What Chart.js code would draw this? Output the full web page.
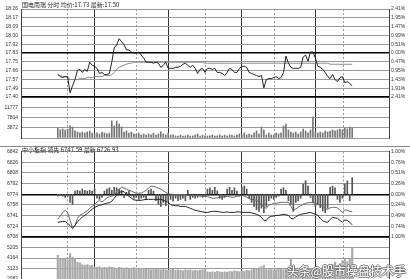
<!DOCTYPE html>
<html>
<head>
<meta charset="utf-8">
<script src="https://cdn.jsdelivr.net/npm/chart.js@4.4.1/dist/chart.umd.min.js"></script>
<style>
  body { margin: 0; background: #fff; }
  #wrap { position: relative; width: 410px; height: 279px; overflow: hidden; background: #fff; }
  #wrap canvas { position: absolute; left: 0; top: 0; }
  .hd { position: absolute; left: 22px; font: 6px "Noto Sans CJK SC"; color: #222; white-space: nowrap; line-height: 7px; }
  .sep { position: absolute; left: 0; width: 410px; height: 0; border-top: 1px solid #888; }
  .mark { position: absolute; right: 4px; top: 262px; font: 12px "Noto Sans CJK SC"; color: #fff; white-space: nowrap;
          text-shadow: 1px 0 #777, -1px 0 #777, 0 1px #777, 0 -1px #777; }
</style>
</head>
<body>
<div id="wrap">
  <canvas id="cPrice" width="410" height="300"></canvas>
  <canvas id="cVol" width="410" height="300"></canvas>
  <canvas id="cIndex" width="410" height="300"></canvas>
  <canvas id="cIndexVol" width="410" height="300"></canvas>
  <div class="hd" style="top:1px">国电南瑞 分时 均价:17.73 最新:17.50</div>
  <div class="sep" style="top:146px"></div>
  <div class="hd" style="top:146px">中小板指 领先 6747.59 最新 6726.93</div>
  <div class="mark">头条@股市操盘技术手</div>
</div>
<script>
// time axis (one point every 2 minutes, 121 points)
var timeLabels = ['09:30', '10:30', '11:30', '14:00', '15:00'];
var timeTicks = [0, 30, 60, 90, 120];
var halfHourTicks = [15, 45, 75, 105];

// stock price panel
var priceLabels = ['17.40', '17.49', '17.57', '17.66', '17.75', '17.83', '17.92', '18.00', '18.09', '18.17', '18.26'];
var pricePctLabels = ['2.41%', '1.91%', '1.43%', '0.95%', '0.47%', '0.00%', '0.51%', '0.99%', '1.47%', '1.95%', '2.41%'];
var price = [17.62, 17.60, 17.59, 17.60, 17.60, 17.44, 17.51, 17.57, 17.66, 17.67,
  17.64, 17.67, 17.65, 17.74, 17.71, 17.70, 17.68, 17.63, 17.64, 17.62,
  17.62, 17.63, 17.74, 17.88, 17.91, 17.97, 17.94, 17.91, 17.86, 17.86,
  17.84, 17.83, 17.83, 17.84, 17.81, 17.78, 17.74, 17.74, 17.74, 17.73,
  17.74, 17.73, 17.69, 17.71, 17.74, 17.68, 17.68, 17.68, 17.69, 17.69,
  17.70, 17.72, 17.73, 17.71, 17.69, 17.71, 17.68, 17.63, 17.67, 17.68,
  17.64, 17.68, 17.68, 17.67, 17.68, 17.64, 17.64, 17.63, 17.61, 17.64,
  17.68, 17.67, 17.64, 17.64, 17.68, 17.70, 17.70, 17.69, 17.64, 17.63,
  17.62, 17.61, 17.60, 17.61, 17.49, 17.57, 17.58, 17.58, 17.59, 17.60,
  17.58, 17.59, 17.64, 17.80, 17.73, 17.69, 17.68, 17.68, 17.68, 17.69,
  17.79, 17.81, 17.75, 17.84, 17.84, 17.78, 17.70, 17.69, 17.67, 17.64,
  17.60, 17.58, 17.62, 17.57, 17.55, 17.59, 17.60, 17.54, 17.55, 17.53,
  17.51];
var avgPrice = [17.62, 17.61, 17.60, 17.60, 17.59, 17.57, 17.57, 17.57, 17.57, 17.58,
  17.58, 17.58, 17.59, 17.59, 17.59, 17.60, 17.60, 17.60, 17.60, 17.61,
  17.61, 17.61, 17.62, 17.64, 17.67, 17.69, 17.70, 17.71, 17.72, 17.73,
  17.73, 17.74, 17.74, 17.74, 17.74, 17.74, 17.74, 17.74, 17.74, 17.74,
  17.74, 17.74, 17.74, 17.74, 17.74, 17.74, 17.74, 17.74, 17.74, 17.74,
  17.74, 17.74, 17.74, 17.74, 17.74, 17.74, 17.74, 17.74, 17.74, 17.74,
  17.73, 17.73, 17.73, 17.73, 17.73, 17.73, 17.73, 17.73, 17.73, 17.73,
  17.73, 17.73, 17.73, 17.73, 17.73, 17.73, 17.73, 17.73, 17.73, 17.73,
  17.73, 17.73, 17.73, 17.73, 17.73, 17.73, 17.73, 17.73, 17.73, 17.73,
  17.73, 17.73, 17.73, 17.73, 17.73, 17.73, 17.73, 17.73, 17.73, 17.73,
  17.73, 17.73, 17.73, 17.73, 17.73, 17.73, 17.73, 17.73, 17.73, 17.73,
  17.73, 17.72, 17.72, 17.72, 17.72, 17.72, 17.72, 17.72, 17.72, 17.72,
  17.72];

// stock volume panel
var volLabels = ['', '3872', '7804', '11777', ''];
var volume = [3840, 3120, 3480, 3050, 3390, 4650, 4180, 2710, 2330, 1960,
  2260, 1890, 2350, 2680, 1930, 1560, 1980, 1520, 2290, 1940,
  1580, 1910, 6620, 4580, 6480, 5350, 4250, 2310, 2720, 1930,
  2280, 1560, 1490, 1950, 1160, 1530, 1120, 1570, 1180, 1910,
  1140, 1520, 2360, 1550, 1170, 1930, 1130, 1180, 790, 760,
  1150, 780, 820, 1160, 750, 800, 1190, 1540, 780, 1120,
  820, 760, 790, 1150, 770, 810, 1160, 780, 1120, 760,
  1170, 1140, 790, 1130, 1560, 1150, 1930, 1180, 1540, 1120,
  1950, 2700, 1530, 4240, 3080, 1160, 1920, 1170, 1140, 1930,
  1550, 1940, 4620, 5380, 3090, 2310, 1920, 2290, 1560, 2330,
  3460, 2680, 1950, 3080, 8060, 2320, 1930, 2280, 1910, 2700,
  2310, 2690, 3070, 2720, 3100, 3450, 3060, 3840, 3490, 4230,
  3880];

// index panel (中小板指)
var indexLabels = ['6708', '6724', '6741', '6758', '6774', '6792', '6808', '6826', '6842'];
var indexPctLabels = ['1.00%', '0.74%', '0.49%', '0.24%', '0.00%', '0.26%', '0.51%', '0.76%', '1.00%'];
var indexBase = 6775;
var leadLine = [6735.6, 6741, 6746.6, 6749.8, 6746.6, 6734, 6723, 6726, 6737, 6742,
  6744, 6746.6, 6749, 6753, 6756, 6759, 6763, 6765, 6763, 6765.5,
  6769.5, 6771, 6772, 6774, 6779, 6783, 6786, 6784.5, 6783, 6781,
  6780, 6778, 6776.6, 6776.6, 6777, 6779, 6781, 6784.5, 6787.6, 6787.6,
  6786, 6784.5, 6783, 6780.5, 6778, 6776, 6775, 6775, 6774, 6775,
  6774, 6775, 6774, 6773.4, 6773.4, 6773.4, 6772.6, 6773.4, 6772.6, 6771.8,
  6771.8, 6771, 6770.3, 6768.7, 6768.7, 6769.5, 6770.3, 6770.3, 6771, 6771.8,
  6771, 6770.3, 6770.3, 6771.8, 6772.6, 6773.4, 6771.8, 6770.3, 6768, 6767,
  6766.3, 6765.5, 6762.4, 6759, 6754.5, 6753, 6757.7, 6759, 6761, 6761,
  6761.6, 6762.4, 6762.4, 6762.4, 6762.4, 6756, 6749.8, 6752, 6754.5, 6757,
  6759, 6761, 6761.6, 6762.4, 6761.6, 6761, 6759, 6757.7, 6756, 6753,
  6751.4, 6753.7, 6754.5, 6754.5, 6753.7, 6749.8, 6746.6, 6750.6, 6749.8, 6748.2,
  6747.6];
var indexLine = [6731, 6731.7, 6732.4, 6732.4, 6729.3, 6726, 6721.4, 6726, 6731.7, 6735.6,
  6739.5, 6742, 6745, 6748.2, 6751.4, 6754.5, 6756, 6757.7, 6758.5, 6760,
  6761, 6761.6, 6764, 6768.7, 6773.4, 6778, 6779, 6779, 6775, 6771.8,
  6768.7, 6766.3, 6765.5, 6765.5, 6765.5, 6766.3, 6767, 6767, 6767, 6767,
  6767, 6767, 6767, 6765.5, 6764, 6762.4, 6758.5, 6757.7, 6757, 6757,
  6756, 6756, 6756, 6754.5, 6753, 6751.4, 6749.8, 6749, 6748.2, 6747.4,
  6746.6, 6746.6, 6747.4, 6748.2, 6748.2, 6748.2, 6747.4, 6746.6, 6746.6, 6747.4,
  6746.6, 6746.6, 6746.6, 6747.4, 6747.4, 6746.6, 6746.6, 6746.6, 6746.6, 6745.8,
  6745, 6743.5, 6741.9, 6738.8, 6734, 6734, 6738.8, 6740.3, 6741, 6741.9,
  6741.9, 6742.7, 6743.5, 6742.7, 6741.9, 6737.2, 6736.4, 6739.5, 6741.9, 6743.5,
  6744.3, 6745, 6745.8, 6746.6, 6745, 6743.5, 6741.9, 6737.2, 6733.3, 6731.7,
  6731, 6735.6, 6738.8, 6738, 6737.2, 6734, 6731, 6734.8, 6734, 6731,
  6727];
// buy/sell strength bars around the previous close
var power = [-3, -2, -3, -5, -3, -13, -16, 5, 6, 5,
  8, 6, 5, 6, 5, 8, -6, -8, -5, 5,
  8, 10, 6, 11, 10, 8, 6, -5, 3, 5,
  -3, -6, -5, -8, -6, -5, -8, 6, 8, 5,
  -10, -16, -19, -13, -18, -10, -8, -11, -6, -10,
  -8, -6, -10, 6, -8, -5, -6, -5, -3, -5,
  -3, 8, 10, 6, 11, 5, -6, -8, -5, 8,
  11, 6, 10, 5, -3, 11, 13, 8, -6, -13,
  -19, -24, -27, -22, -29, -19, -10, -6, -8, -5,
  -3, 8, 10, 6, -10, -16, -27, -13, -10, -6,
  16, 21, 13, -5, -13, -19, -16, -21, -26, -29,
  -22, 11, 13, 10, -8, -13, -6, 16, 21, -10,
  26];

// index volume panel
var indexVolLabels = ['2082', '3123', '4164', '5205', ''];
var indexVol = [4440, 4100, 4050, 4150, 4000, 4610, 4250, 4150, 3750, 3700,
  3500, 3450, 3500, 3420, 3450, 3300, 3250, 3300, 3200, 3250,
  3200, 3300, 3250, 3200, 3150, 3250, 3200, 3150, 3200, 3150,
  3100, 3200, 3150, 3100, 3150, 3100, 3050, 3100, 3000, 3050,
  3100, 3050, 3000, 3050, 3000, 2950, 3000, 3050, 2950, 3000,
  2950, 2900, 3000, 2950, 3000, 2900, 2950, 2900, 2950, 3000,
  3100, 2800, 2750, 2800, 2750, 2850, 2800, 2750, 2800, 2750,
  2850, 2800, 2900, 2850, 2800, 2900, 2850, 2950, 2900, 3000,
  3050, 3100, 3200, 3300, 3420, 3100, 3000, 3050, 2950, 3000,
  3050, 3100, 3000, 3050, 3200, 4080, 3300, 3100, 3000, 3050,
  3100, 3000, 3050, 3100, 3000, 3050, 2950, 3000, 3100, 3050,
  3200, 3400, 3550, 3750, 3450, 3600, 3900, 4050, 3800, 4100,
  5230];

var H = 300;
var tickFont = { size: 5, family: 'Arial' };

function pts(arr) {
  return arr.map(function (v, i) { return { x: i, y: v }; });
}

function evenTicks(min, max, n) {
  var out = [];
  for (var i = 0; i <= n; i++) out.push({ value: min + (max - min) * i / n });
  return out;
}

function xScales(showTime) {
  return {
    x: {
      type: 'linear', min: 0, max: 120,
      afterBuildTicks: function (s) { s.ticks = timeTicks.map(function (v) { return { value: v }; }); },
      afterFit: function (s) { s.height = 0; },
      grid: { color: '#333', drawTicks: false },
      border: { display: false },
      ticks: {
        display: showTime, padding: 1, autoSkip: false, maxRotation: 0,
        font: tickFont, color: '#333',
        callback: function (v, i) { return timeLabels[i]; }
      }
    },
    xd: {
      type: 'linear', min: 0, max: 120,
      afterBuildTicks: function (s) { s.ticks = halfHourTicks.map(function (v) { return { value: v }; }); },
      afterFit: function (s) { s.height = 0; },
      grid: { color: '#999', drawTicks: false, borderDash: [2, 2] },
      border: { display: false, dash: [2, 2] },
      ticks: { display: false }
    }
  };
}

function yScales(min, max, n, leftLabels, rightLabels, bold) {
  return {
    y: {
      position: 'left', min: min, max: max,
      afterBuildTicks: function (s) { s.ticks = evenTicks(min, max, n); },
      afterFit: function (s) { s.width = 21; },
      grid: {
        drawTicks: false,
        color: function (ctx) { return bold.indexOf(ctx.index) >= 0 ? '#000' : '#999'; },
        lineWidth: function (ctx) { return bold.indexOf(ctx.index) >= 0 ? 1.5 : 1; }
      },
      border: { color: '#444' },
      ticks: {
        padding: 3, autoSkip: false, font: tickFont, color: '#333',
        callback: function (v, i) { return leftLabels[i]; }
      }
    },
    yR: {
      position: 'right', min: min, max: max,
      afterBuildTicks: function (s) { s.ticks = evenTicks(min, max, n); },
      afterFit: function (s) { s.width = 21; },
      grid: { display: false, drawTicks: false },
      border: { color: '#444' },
      ticks: {
        padding: 2, autoSkip: false, font: tickFont, color: '#333',
        callback: function (v, i) { return rightLabels ? rightLabels[i] : ''; }
      }
    }
  };
}

function makePanel(id, top, bottom, yOpts, datasets, showTime) {
  var scales = Object.assign(xScales(showTime), yOpts);
  return new Chart(document.getElementById(id), {
    type: 'bar',
    data: { datasets: datasets },
    options: {
      responsive: false,
      animation: false,
      events: [],
      layout: { padding: { left: 0, right: 0, top: top, bottom: H - bottom } },
      plugins: { legend: { display: false }, tooltip: { enabled: false } },
      scales: scales
    }
  });
}

makePanel('cPrice', 9, 97, yScales(17.40, 18.26, 10, priceLabels, pricePctLabels, [0, 5]), [
  { type: 'line', data: pts(avgPrice), borderColor: '#888', borderWidth: 1, pointRadius: 0, order: 2 },
  { type: 'line', data: pts(price), borderColor: '#222', borderWidth: 1, pointRadius: 0, order: 1 }
], false);

makePanel('cVol', 97, 138, yScales(0, 15750, 4, volLabels, null, [4]), [
  { type: 'bar', data: pts(volume), backgroundColor: '#777', barThickness: 1 }
], true);

makePanel('cIndex', 151.5, 237, yScales(6708, 6842, 8, indexLabels, indexPctLabels, [0, 4]), [
  { type: 'bar', data: power.map(function (d, i) { return { x: i, y: [indexBase, indexBase + d] }; }),
    backgroundColor: '#555', barThickness: 1, order: 3 },
  { type: 'line', data: pts(leadLine), borderColor: '#666', borderWidth: 1, pointRadius: 0, order: 2 },
  { type: 'line', data: pts(indexLine), borderColor: '#222', borderWidth: 1, pointRadius: 0, order: 1 }
], false);

makePanel('cIndexVol', 237, 279, yScales(2082, 6246, 4, indexVolLabels, null, [4]), [
  { type: 'bar', data: pts(indexVol), backgroundColor: '#aaa', barThickness: 1.5 }
], false);
</script>
</body>
</html>
